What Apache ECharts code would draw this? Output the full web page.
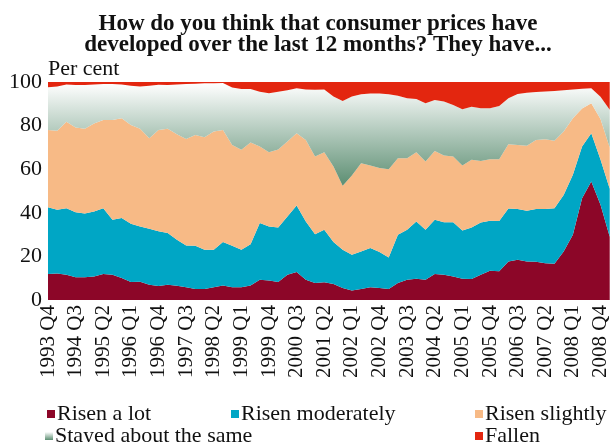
<!DOCTYPE html>
<html>
<head>
<meta charset="utf-8">
<script src="https://cdn.jsdelivr.net/npm/echarts@6/dist/echarts.min.js"></script>
<style>
  html, body { margin: 0; padding: 0; background: #fff; }
  #chart { width: 611px; height: 442px; }
</style>
</head>
<body>
<div id="chart"></div>
<script>
// quarterly survey, 1993 Q4 .. 2009 Q1 (per cent of answers)
var firstYear = 1993, firstQuarter = 4, nQuarters = 62;
var quarters = [];
for (var k = 0; k < nQuarters; k++) {
  var q = firstQuarter - 1 + k;
  quarters.push((firstYear + Math.floor(q / 4)) + ' Q' + (q % 4 + 1));
}

var risenALot = [11.9, 12.1, 11.6, 10.4, 10.4, 10.8, 11.9, 11.6, 10.1, 8.2,
  8.4, 7.0, 6.4, 7.0, 6.5, 5.8, 5.0, 5.0, 5.8, 6.7,
  5.8, 5.8, 6.7, 9.3, 8.9, 8.3, 11.6, 12.8, 9.3, 7.8,
  8.1, 7.3, 5.5, 4.4, 5.0, 5.8, 5.5, 5.0, 7.8, 9.3,
  9.8, 9.3, 11.9, 11.6, 10.8, 9.8, 9.6, 11.6, 13.4, 13.2,
  17.7, 18.5, 17.7, 17.6, 16.9, 16.6, 22.3, 29.9, 46.7, 54.4,
  43.7, 29.0];
var risenModerately = [30.7, 29.3, 30.5, 29.8, 29.3, 29.8, 30.2, 25.2, 27.5, 26.8,
  25.3, 25.7, 25.1, 23.7, 21.1, 19.2, 19.9, 18.0, 17.2, 19.9,
  19.1, 17.2, 18.9, 26.0, 24.8, 25.0, 26.7, 30.6, 26.7, 22.4,
  24.1, 19.3, 17.6, 16.4, 17.3, 18.0, 16.5, 14.5, 22.1, 22.9,
  26.2, 22.9, 24.9, 24.1, 24.9, 22.1, 23.7, 24.0, 22.9, 23.0,
  24.3, 23.3, 23.2, 24.1, 24.9, 25.5, 25.9, 27.5, 23.7, 22.1,
  20.8, 22.0];
var risenSlightly = [35.4, 36.2, 39.7, 38.9, 38.8, 40.4, 40.5, 45.8, 45.8, 45.3,
  44.9, 41.5, 46.5, 47.8, 48.4, 48.9, 50.8, 51.7, 54.3, 51.4,
  46.2, 45.9, 46.6, 35.1, 34.1, 35.7, 34.4, 33.1, 37.4, 35.6,
  35.6, 34.6, 29.3, 36.3, 40.4, 37.9, 38.5, 40.5, 35.1, 32.8,
  31.8, 31.3, 31.6, 30.6, 30.1, 29.8, 31.0, 28.2, 28.3, 28.4,
  29.5, 29.3, 29.8, 31.7, 31.9, 31.0, 29.1, 26.0, 17.5, 13.7,
  18.5, 19.0];
var stayedSame = [19.6, 20.3, 17.1, 19.5, 20.1, 17.9, 16.5, 16.5, 15.5, 18.0,
  19.3, 24.1, 20.7, 20.1, 22.8, 25.2, 23.5, 24.7, 22.1, 21.5,
  26.4, 27.9, 24.6, 25.1, 27.0, 26.5, 23.5, 20.6, 23.2, 30.7,
  28.8, 32.1, 38.9, 36.2, 31.7, 33.0, 34.2, 34.4, 28.7, 27.5,
  24.4, 26.7, 23.4, 24.7, 23.7, 25.8, 24.4, 24.2, 23.4, 24.4,
  21.0, 23.4, 24.4, 22.0, 21.9, 22.8, 18.9, 13.2, 9.0, 6.9,
  10.2, 17.3];
var fallen = [2.4, 2.1, 1.1, 1.4, 1.4, 1.1, 0.9, 0.9, 1.1, 1.7,
  2.1, 1.7, 1.3, 1.4, 1.2, 0.9, 0.8, 0.6, 0.6, 0.5,
  2.5, 3.2, 3.2, 4.5, 5.2, 4.5, 3.8, 2.9, 3.4, 3.5,
  3.4, 6.7, 8.7, 6.7, 5.6, 5.3, 5.3, 5.6, 6.3, 7.5,
  7.8, 9.8, 8.2, 9.0, 10.5, 12.5, 11.3, 12.0, 12.0, 11.0,
  7.5, 5.5, 4.9, 4.6, 4.4, 4.1, 3.8, 3.4, 3.1, 2.9,
  6.8, 12.7];

var serif = '"Liberation Serif", "DejaVu Serif", serif';

var greenFade = new echarts.graphic.LinearGradient(0, 0, 0, 1, [
  { offset: 0, color: '#ffffff' },
  { offset: 1, color: '#5c8e72' }
]);

function band(name, data, color) {
  return {
    name: name,
    type: 'line',
    stack: 'all',
    data: data,
    color: color,
    showSymbol: false,
    lineStyle: { width: 0 },
    areaStyle: { color: color, opacity: 1 },
    emphasis: { disabled: true }
  };
}

function legendItem(name, x, y) {
  return {
    data: [name],
    left: x,
    top: y,
    icon: 'rect',
    itemWidth: 8,
    itemHeight: 8,
    padding: 0,
    selectedMode: false,
    textStyle: { fontFamily: serif, fontSize: 22, color: '#111', padding: [0, 0, 0, -3] }
  };
}

var chart = echarts.init(document.getElementById('chart'));

chart.setOption({
  animation: false,
  backgroundColor: '#fff',
  grid: { left: 48, right: 1, top: 82, bottom: 142 },
  graphic: [
    {
      type: 'text',
      x: 318, y: 14,
      style: {
        text: 'How do you think that consumer prices have\ndeveloped over the last 12 months? They have...',
        textAlign: 'center',
        font: 'bold 23px ' + serif,
        lineHeight: 21,
        fill: '#111'
      }
    },
    {
      type: 'text',
      x: 48, y: 58,
      style: { text: 'Per cent', font: '22px ' + serif, fill: '#111' }
    }
  ],
  legend: [
    legendItem('Risen a lot', 47, 403),
    legendItem('Risen moderately', 231, 403),
    legendItem('Risen slightly', 475, 403),
    legendItem('Stayed about the same', 45, 425),
    legendItem('Fallen', 475, 425)
  ],
  xAxis: {
    type: 'category',
    data: quarters,
    boundaryGap: false,
    axisLine: { show: false },
    axisTick: { show: false },
    axisLabel: {
      interval: 2,
      rotate: 90,
      margin: 5,
      fontFamily: serif,
      fontSize: 21,
      color: '#111'
    }
  },
  yAxis: {
    type: 'value',
    min: 0,
    max: 100,
    interval: 20,
    splitLine: { show: false },
    axisLine: { show: false },
    axisTick: { show: false },
    axisLabel: { fontFamily: serif, fontSize: 22, color: '#111', margin: 6 }
  },
  series: [
    band('Risen a lot', risenALot, '#8c0628'),
    band('Risen moderately', risenModerately, '#00a6c5'),
    band('Risen slightly', risenSlightly, '#f7ba86'),
    band('Stayed about the same', stayedSame, greenFade),
    band('Fallen', fallen, '#e3260f')
  ]
});
</script>
</body>
</html>
